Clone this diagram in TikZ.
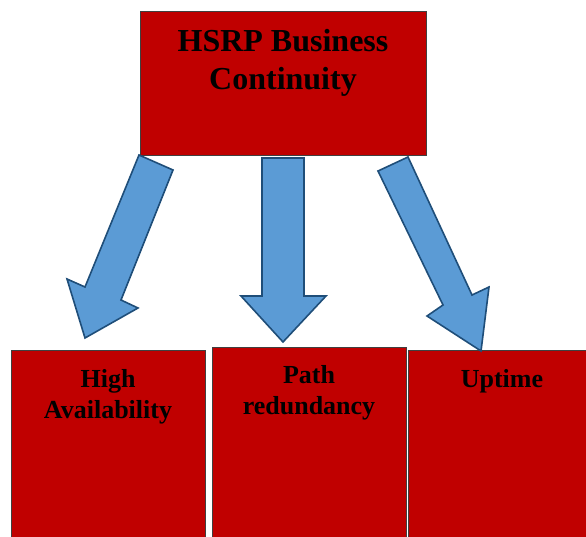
\documentclass[tikz,border=0pt]{standalone}
\usepackage{fontspec}
\setmainfont{Liberation Serif}
\definecolor{boxred}{HTML}{C00000}
\definecolor{arrowfill}{HTML}{5B9BD5}
\definecolor{arrowline}{HTML}{1F4E79}
\begin{document}
\begin{tikzpicture}[x=1pt,y=-1pt,
  redbox/.style={draw=black!75,line width=0.8pt,fill=boxred,inner sep=0pt,anchor=north west},
  toptext/.style={font=\fontsize{32}{38}\selectfont\bfseries,align=center,anchor=base,inner sep=0pt},
  bottext/.style={font=\fontsize{26}{31}\selectfont\bfseries,align=center,anchor=base,inner sep=0pt},
  blockarrow/.style={fill=arrowfill,draw=arrowline,line width=1.6pt,line join=miter}]
\useasboundingbox (0,0) rectangle (586,537);
% boxes
\node[redbox,minimum width=286pt,minimum height=144pt] (top) at (140,11) {};
\node[redbox,minimum width=194pt,minimum height=190pt] (b1) at (11,350) {};
\node[redbox,minimum width=194pt,minimum height=193pt] (b2) at (212,347) {};
\node[redbox,minimum width=182pt,minimum height=190pt] (b3) at (408,350) {};
% texts (base anchor = last line's baseline)
\node[toptext] (ttop) at (283,90) {HSRP Business\\Continuity};
\node[bottext] (t1) at (108,418) {High\\Availability};
\node[bottext] (t2) at (309,414) {Path\\redundancy};
\node[bottext] (t3) at (502,387) {Uptime};
% block arrows
\draw[blockarrow] (139,155) -- (173,170) -- (121,300) -- (138,308) -- (85,338) -- (67,279) -- (85,287) -- cycle;
\draw[blockarrow] (262,158) -- (304,158) -- (304,296) -- (326,296) -- (283,342) -- (241,296) -- (262,296) -- cycle;
\draw[blockarrow] (378,171) -- (408,157) -- (472,295) -- (489,287) -- (481,351) -- (427,316) -- (443,305) -- cycle;
\end{tikzpicture}
\end{document}
